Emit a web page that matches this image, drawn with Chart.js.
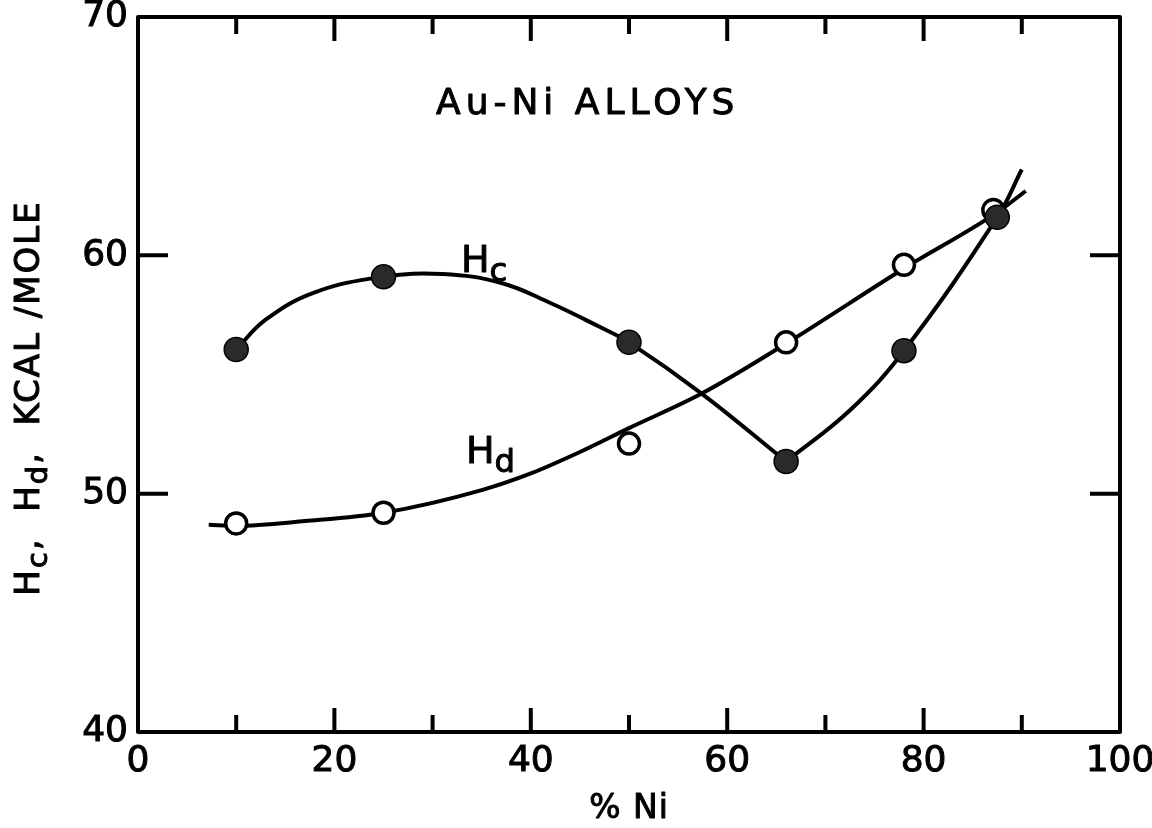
<!DOCTYPE html>
<html>
<head>
<meta charset="utf-8">
<script src="https://cdn.jsdelivr.net/npm/chart.js@4.4.1/dist/chart.umd.min.js"></script>
<style>
  html, body { margin: 0; background: #fff; }
  canvas { display: block; }
</style>
</head>
<body>
<canvas id="chart" width="1152" height="828"></canvas>
<script>
// Au-Ni alloys: Hc (filled) and Hd (open) against % Ni, each with its hand-faired curve.
const FONT = "DejaVu Sans";

// measured points
const hcNi = [10, 25, 50, 66, 78, 87.5];
const hcKcal = [56.05, 59.1, 56.35, 51.35, 56.0, 61.6];
const hdNi = [10, 25, 50, 66, 78, 87.1];
const hdKcal = [48.75, 49.2, 52.1, 56.35, 59.6, 61.9];

// faired curves
const hcLeftNi = [10, 13, 18, 25, 31, 37, 42, 47, 50, 57.4, 66];
const hcLeftKcal = [56.05, 57.3, 58.45, 59.1, 59.22, 58.84, 58.0, 57.0, 56.35, 54.2, 51.35];
const hcRightNi = [66, 72.5, 78, 87.5, 90];
const hcRightKcal = [51.35, 53.5, 56.0, 61.6, 63.6];
const hdCurveNi = [7.2, 10, 17, 25, 35, 40, 45, 50, 57.4, 66, 78, 87.5, 90.4];
const hdCurveKcal = [48.7, 48.65, 48.85, 49.2, 50.15, 50.85, 51.75, 52.75, 54.2, 56.3, 59.45, 61.8, 62.7];

const xMinorTicks = [10, 20, 30, 40, 50, 60, 70, 80, 90];
const yMinorTicks = [50, 60];

const pts = (xs, ys) => xs.map((x, i) => ({ x, y: ys[i] }));

function curve(data, smooth) {
  return {
    data, showLine: true, borderColor: "#000", borderWidth: 4,
    pointRadius: 0, order: 1,
    ...(smooth ? { tension: 0.4 } : { cubicInterpolationMode: "monotone" }),
  };
}

// lettering is a touch heavier than the font, so every glyph gets a thin outline too
function ink(ctx, t, x, y) {
  ctx.fillText(t, x, y);
  ctx.strokeText(t, x, y);
}

// draws text with subscripts left to right from (x, y) baseline; returns its width
function richText(ctx, parts, x, y, size, measureOnly) {
  let cx = x;
  for (const p of parts) {
    const s = p.sub ? size * 0.85 : size;
    ctx.font = `${s}px "${FONT}"`;
    if (!measureOnly) ink(ctx, p.t, cx, y + (p.sub ? size * 0.24 : 0));
    cx += ctx.measureText(p.t).width;
  }
  return cx - x;
}

const framePlugin = {
  id: "frame",
  afterDraw(chart) {
    const { ctx, chartArea: a, scales: { x, y } } = chart;
    ctx.save();
    ctx.strokeStyle = "#000";
    ctx.fillStyle = "#000";
    ctx.lineWidth = 4;
    ctx.lineJoin = "round";
    ctx.strokeRect(a.left, a.top, a.right - a.left, a.bottom - a.top);

    // inward ticks on all four sides
    ctx.beginPath();
    for (const v of xMinorTicks) {
      const px = x.getPixelForValue(v);
      const len = v % 20 === 0 ? 24 : 17;
      ctx.moveTo(px, a.bottom); ctx.lineTo(px, a.bottom - len);
      ctx.moveTo(px, a.top); ctx.lineTo(px, a.top + len);
    }
    for (const v of yMinorTicks) {
      const py = y.getPixelForValue(v);
      ctx.moveTo(a.left, py); ctx.lineTo(a.left + 30, py);
      ctx.moveTo(a.right, py); ctx.lineTo(a.right - 30, py);
    }
    ctx.stroke();

    ctx.textBaseline = "alphabetic";
    ctx.textAlign = "left";
    ctx.lineWidth = 1;

    // title
    ctx.letterSpacing = "5px";
    ctx.font = `36px "${FONT}"`;
    ink(ctx, "Au-Ni ALLOYS", 436, 114);
    ctx.letterSpacing = "0px";

    // curve labels
    richText(ctx, [{ t: "H" }, { t: "c", sub: true }], 461, 272, 38);
    richText(ctx, [{ t: "H" }, { t: "d", sub: true }], 466, 463, 38);

    // x axis title
    ctx.font = `33px "${FONT}"`;
    ctx.letterSpacing = "1px";
    ctx.textAlign = "center";
    ink(ctx, "% Ni", (a.left + a.right) / 2, 818);
    ctx.textAlign = "left";

    // y axis title, rotated
    const yTitle = [
      { t: "H" }, { t: "c", sub: true }, { t: ",  H" }, { t: "d", sub: true },
      { t: ",  KCAL /MOLE" },
    ];
    ctx.letterSpacing = "2px";
    const w = richText(ctx, yTitle, 0, 0, 34, true);
    ctx.translate(39, 398);
    ctx.rotate(-Math.PI / 2);
    richText(ctx, yTitle, -w / 2, 0, 34);
    ctx.restore();
  },
};

const tickText = { color: "#000", textStrokeColor: "#000", textStrokeWidth: 1, font: { family: FONT, size: 36 } };

new Chart(document.getElementById("chart"), {
  type: "scatter",
  data: {
    datasets: [
      {
        data: pts(hcNi, hcKcal), pointRadius: 12, pointBackgroundColor: "#2a2a2a",
        pointBorderColor: "#000", pointBorderWidth: 1.5, order: 0,
      },
      {
        data: pts(hdNi, hdKcal), pointRadius: 10.5, pointBackgroundColor: "#fff",
        pointBorderColor: "#000", pointBorderWidth: 3.5, order: 0,
      },
      curve(pts(hcLeftNi, hcLeftKcal), true),
      curve(pts(hcRightNi, hcRightKcal), true),
      curve(pts(hdCurveNi, hdCurveKcal)),
    ],
  },
  options: {
    responsive: false,
    animation: false,
    layout: { padding: { top: 17, right: 32, left: 0, bottom: 0 } },
    plugins: { legend: { display: false }, tooltip: { enabled: false } },
    scales: {
      x: {
        type: "linear", min: 0, max: 100,
        grid: { display: false, drawTicks: false }, border: { display: false },
        ticks: { stepSize: 20, padding: 8, ...tickText },
        afterFit(s) { s.height = 96; s.paddingLeft = 0; s.paddingRight = 0; },
      },
      y: {
        type: "linear", min: 40, max: 70,
        grid: { display: false, drawTicks: false }, border: { display: false },
        ticks: { stepSize: 10, padding: 10, ...tickText },
        afterFit(s) { s.width = 138; s.paddingTop = 0; s.paddingBottom = 0; },
      },
    },
  },
  plugins: [framePlugin],
});
</script>
</body>
</html>
